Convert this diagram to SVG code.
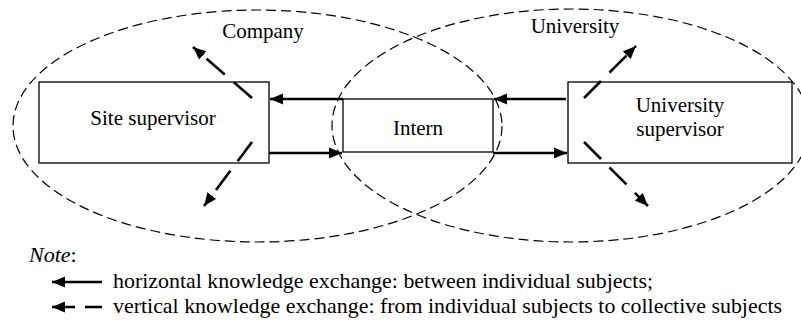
<svg xmlns="http://www.w3.org/2000/svg" width="801" height="323" viewBox="0 0 801 323" font-family="'Liberation Serif', 'Times New Roman', serif">
<style>
text{font-family:"Liberation Serif","Times New Roman",serif;fill:#000}
.lbl{font-size:21px;text-anchor:middle}
.leg{font-size:22px}
.ell{fill:none;stroke:#000;stroke-width:1.2;stroke-dasharray:10 5}
.box{fill:#fff;stroke:#000;stroke-width:1.3}
.h{fill:none;stroke:#000;stroke-width:2.6;marker-end:url(#ah)}
.v{fill:none;stroke:#000;stroke-width:2.6;stroke-dasharray:24 12;marker-end:url(#ah)}
</style>
<defs>
<marker id="ah" markerUnits="userSpaceOnUse" markerWidth="14" markerHeight="12" refX="13" refY="5.5" orient="auto" viewBox="0 0 14 11">
<path d="M0,0 L13,5.5 L0,11 z" fill="#000"/>
</marker>
</defs>
<g id="company-region">
<ellipse class="ell" cx="257.5" cy="126" rx="244.5" ry="116"/>
<text class="lbl" x="263" y="38">Company</text>
</g>
<g id="university-region">
<ellipse class="ell" cx="571" cy="125.5" rx="239" ry="116.5"/>
<text class="lbl" x="575" y="33">University</text>
</g>
<g id="site-supervisor">
<rect class="box" x="39" y="82" width="230" height="81"/>
<text class="lbl" x="153" y="125">Site supervisor</text>
</g>
<g id="intern">
<rect class="box" x="343" y="99" width="150" height="53"/>
<text class="lbl" x="418" y="135">Intern</text>
</g>
<g id="university-supervisor">
<rect class="box" x="568" y="82" width="224" height="81"/>
<text class="lbl" x="680" y="112">University</text>
<text class="lbl" x="680" y="136">supervisor</text>
</g>
<g id="connectors">
<line class="h" x1="343" y1="99" x2="270" y2="99"/>
<line class="h" x1="269" y1="153" x2="342" y2="153"/>
<line class="h" x1="566" y1="99" x2="494" y2="99"/>
<line class="h" x1="493" y1="153" x2="567" y2="153"/>
<line class="v" x1="252" y1="98" x2="193" y2="47"/>
<line class="v" x1="252" y1="142" x2="204" y2="206"/>
<line class="v" x1="584" y1="98" x2="636" y2="46"/>
<line class="v" x1="584" y1="142" x2="648" y2="206"/>
</g>
<g id="legend">
<text class="leg" x="29" y="262"><tspan font-style="italic">Note</tspan>:</text>
<line class="h" x1="102" y1="282" x2="52" y2="282"/>
<text class="leg" x="113" y="288" textLength="540" lengthAdjust="spacingAndGlyphs">horizontal knowledge exchange: between individual subjects;</text>
<line class="h" x1="102" y1="307" x2="52" y2="307" style="stroke-dasharray:17 10 30"/>
<text class="leg" x="113" y="313" textLength="669" lengthAdjust="spacingAndGlyphs">vertical knowledge exchange: from individual subjects to collective subjects</text>
</g>
</svg>
